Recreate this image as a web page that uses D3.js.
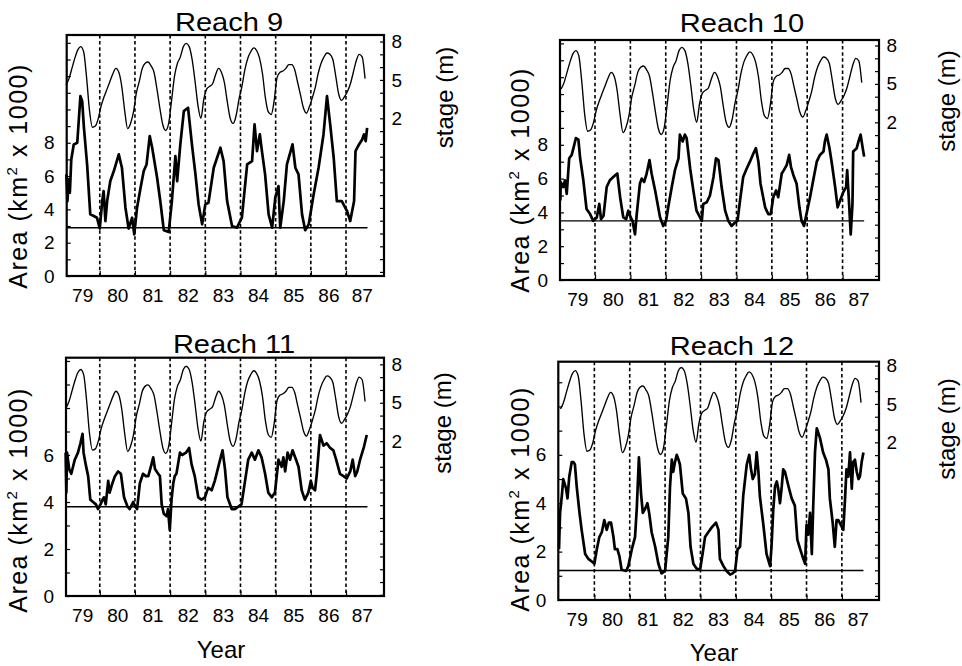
<!DOCTYPE html>
<html>
<head>
<meta charset="utf-8">
<script src="https://cdn.jsdelivr.net/npm/d3@7"></script>
<style>
  body { margin: 0; background: #fff; }
  svg { display: block; }
  text { font-family: "Liberation Sans", Arial, Helvetica, sans-serif; fill: #000; }
</style>
</head>
<body>
<svg id="chart" width="962" height="666"></svg>
<script>
// ---- data -------------------------------------------------------------
// Year boundaries (dashed lines) and the year labels under each panel
const yearBreaks = [1980, 1981, 1982, 1983, 1984, 1985, 1986, 1987];
const yearLabelAt = [1979.5, 1980.5, 1981.5, 1982.5, 1983.5, 1984.5, 1985.5, 1986.5, 1987.45];
const yearLabels = ["79", "80", "81", "82", "83", "84", "85", "86", "87"];

// River stage (m), monthly from January 1979
const stageStartYear = 1979;
const stage = [
  4.6, 5.1, 5.9, 6.7, 7.35, 7.6, 7.2, 5.2, 2.6, 1.3,
  1.4, 2.0, 3.0, 3.7, 4.3, 4.9, 5.5, 5.9, 5.6, 4.5,
  2.6, 1.2, 1.6, 2.5, 4.0, 4.9, 5.9, 6.3, 6.4, 6.1,
  5.6, 4.3, 2.8, 1.5, 1.05, 1.6, 3.4, 5.3, 6.3, 6.8,
  7.6, 7.85, 7.6, 6.6, 4.9, 3.0, 2.0, 3.5, 4.3, 4.5,
  4.7, 5.4, 5.9, 5.6, 4.8, 3.3, 2.0, 1.6, 2.2, 3.5,
  4.5, 5.8, 6.7, 7.2, 7.5, 7.3, 6.7, 5.5, 3.6, 2.5,
  2.3, 3.4, 5.2, 5.6, 5.7, 5.9, 6.2, 6.2, 5.8, 4.8,
  3.8, 2.8, 2.4, 2.9, 3.6, 4.4, 5.5, 6.3, 6.8, 7.1,
  7.0, 6.6, 5.3, 3.9, 3.4, 3.7, 4.1, 4.7, 5.6, 6.5,
  7.0, 6.8, 5.1
];

// Inundated area (km^2 x 1000) per reach: [decimal year, area]
const reach9Area = [
  [1979.05,6.1],[1979.08,4.5],[1979.12,5.8],[1979.15,5.0],[1979.19,7.0],[1979.26,7.9],[1979.36,8.0],
  [1979.45,10.8],[1979.50,10.5],[1979.55,8.9],[1979.64,6.7],[1979.73,3.7],[1979.83,3.6],[1979.92,3.5],
  [1980.00,2.85],[1980.07,4.5],[1980.11,5.1],[1980.16,3.3],[1980.21,4.5],[1980.30,5.7],[1980.40,6.3],
  [1980.54,7.3],[1980.63,6.5],[1980.73,4.1],[1980.82,2.85],[1980.92,3.5],[1980.98,2.5],[1981.06,4.1],
  [1981.16,5.3],[1981.25,6.3],[1981.33,6.7],[1981.42,8.4],[1981.49,7.7],[1981.63,5.9],[1981.72,4.5],
  [1981.82,2.75],[1981.96,2.65],[1982.05,4.5],[1982.15,7.2],[1982.20,5.7],[1982.29,7.9],[1982.39,9.9],
  [1982.51,10.1],[1982.62,7.9],[1982.72,6.1],[1982.81,4.3],[1982.91,3.1],[1983.00,4.3],[1983.09,4.4],
  [1983.24,6.5],[1983.43,7.7],[1983.52,6.9],[1983.62,4.5],[1983.76,3.0],[1983.90,2.9],[1984.04,3.5],
  [1984.19,6.7],[1984.33,6.9],[1984.40,9.1],[1984.47,7.5],[1984.55,8.5],[1984.61,7.5],[1984.70,6.1],
  [1984.80,3.7],[1984.90,2.9],[1984.99,4.7],[1985.08,5.4],[1985.13,2.9],[1985.23,4.5],[1985.32,6.7],
  [1985.48,7.9],[1985.56,6.5],[1985.65,6.1],[1985.75,3.7],[1985.84,2.75],[1985.94,3.1],[1986.08,4.9],
  [1986.22,6.5],[1986.36,8.5],[1986.46,10.8],[1986.55,9.1],[1986.65,7.1],[1986.74,4.5],[1986.88,4.5],
  [1987.03,3.9],[1987.12,3.3],[1987.23,4.5],[1987.27,7.5],[1987.37,7.9],[1987.46,8.2],[1987.51,8.5],
  [1987.56,8.1],[1987.60,8.9]
];
const reach10Area = [
  [1979.02,4.7],[1979.03,5.8],[1979.10,5.5],[1979.15,5.9],[1979.20,5.1],[1979.27,7.2],[1979.34,7.4],
  [1979.39,7.8],[1979.46,8.4],[1979.53,8.3],[1979.58,7.2],[1979.67,5.9],[1979.76,4.2],[1979.86,3.9],
  [1979.95,3.5],[1980.05,3.7],[1980.12,4.5],[1980.17,3.6],[1980.24,3.8],[1980.33,5.5],[1980.42,5.9],
  [1980.57,6.2],[1980.63,6.3],[1980.71,4.9],[1980.80,3.7],[1980.88,3.6],[1980.94,4.1],[1981.01,3.7],
  [1981.06,3.5],[1981.13,2.7],[1981.18,3.9],[1981.27,5.7],[1981.32,6.0],[1981.39,5.8],[1981.46,6.3],
  [1981.54,7.1],[1981.60,6.3],[1981.70,5.3],[1981.84,3.7],[1981.93,3.2],[1982.01,3.5],[1982.07,4.3],
  [1982.17,5.5],[1982.26,6.5],[1982.36,7.2],[1982.40,8.6],[1982.48,8.2],[1982.54,8.6],[1982.59,8.4],
  [1982.69,6.6],[1982.78,5.3],[1982.87,4.1],[1982.97,3.7],[1983.02,3.5],[1983.06,4.5],[1983.16,4.6],
  [1983.25,5.0],[1983.35,6.1],[1983.42,7.2],[1983.49,7.1],[1983.58,5.5],[1983.68,4.1],[1983.77,3.5],
  [1983.86,3.2],[1983.96,3.4],[1984.03,3.5],[1984.10,4.7],[1984.19,6.1],[1984.29,6.6],[1984.38,7.0],
  [1984.48,7.5],[1984.55,7.8],[1984.62,7.0],[1984.68,5.7],[1984.81,4.3],[1984.90,3.9],[1984.97,3.9],
  [1985.04,4.9],[1985.12,5.3],[1985.18,4.9],[1985.28,6.3],[1985.34,6.5],[1985.42,6.8],[1985.49,7.4],
  [1985.54,6.7],[1985.61,6.2],[1985.70,5.7],[1985.78,4.3],[1985.84,3.5],[1985.91,3.2],[1985.98,3.9],
  [1986.08,4.9],[1986.17,5.9],[1986.27,7.0],[1986.36,7.4],[1986.46,7.6],[1986.50,8.2],[1986.55,8.6],
  [1986.63,7.8],[1986.69,7.0],[1986.79,5.5],[1986.86,4.3],[1986.93,4.7],[1987.02,5.2],[1987.10,5.5],
  [1987.13,6.5],[1987.19,4.3],[1987.23,2.7],[1987.28,4.5],[1987.30,7.6],[1987.40,7.8],[1987.45,8.2],
  [1987.51,8.6],[1987.57,7.8],[1987.61,7.3]
];
const reach11Area = [
  [1979.03,6.1],[1979.05,4.4],[1979.07,6.1],[1979.13,5.4],[1979.19,5.2],[1979.29,5.8],[1979.38,6.1],
  [1979.45,6.5],[1979.51,6.9],[1979.54,6.1],[1979.60,5.6],[1979.67,5.1],[1979.73,4.1],[1979.81,4.0],
  [1979.89,3.9],[1979.95,3.7],[1980.02,3.9],[1980.08,4.1],[1980.12,4.2],[1980.17,3.9],[1980.24,4.9],
  [1980.28,4.4],[1980.36,4.8],[1980.43,5.1],[1980.52,5.3],[1980.60,5.2],[1980.69,4.2],[1980.79,3.8],
  [1980.85,3.7],[1980.95,4.0],[1981.01,3.8],[1981.06,3.7],[1981.14,4.8],[1981.23,5.2],[1981.31,5.1],
  [1981.38,5.1],[1981.47,5.6],[1981.52,5.9],[1981.57,5.4],[1981.66,5.2],[1981.71,5.1],[1981.76,3.9],
  [1981.82,3.5],[1981.90,3.4],[1981.94,3.7],[1981.99,2.8],[1982.04,4.1],[1982.09,4.8],[1982.13,5.1],
  [1982.18,5.2],[1982.28,6.1],[1982.35,6.0],[1982.45,6.1],[1982.54,6.3],[1982.61,5.6],[1982.70,5.1],
  [1982.80,4.2],[1982.89,4.1],[1982.99,4.2],[1983.08,4.6],[1983.18,4.5],[1983.27,4.9],[1983.37,5.5],
  [1983.49,6.2],[1983.56,5.4],[1983.63,4.2],[1983.75,3.7],[1983.84,3.7],[1983.94,3.8],[1984.03,3.9],
  [1984.13,4.9],[1984.22,5.8],[1984.32,6.1],[1984.41,5.8],[1984.51,6.2],[1984.60,5.9],[1984.70,5.2],
  [1984.79,4.4],[1984.89,4.2],[1984.98,4.4],[1985.08,5.8],[1985.17,5.5],[1985.22,5.9],[1985.27,5.3],
  [1985.34,6.1],[1985.41,5.8],[1985.48,6.2],[1985.58,5.8],[1985.65,5.5],[1985.74,4.5],[1985.83,4.1],
  [1985.93,4.4],[1986.00,4.9],[1986.05,4.6],[1986.12,4.5],[1986.17,5.2],[1986.26,6.85],[1986.36,6.4],
  [1986.45,6.5],[1986.55,6.3],[1986.64,6.2],[1986.72,5.8],[1986.83,5.2],[1986.93,5.1],[1987.02,5.0],
  [1987.12,5.3],[1987.19,5.8],[1987.26,5.1],[1987.32,5.3],[1987.40,5.8],[1987.51,6.35],[1987.59,6.85]
];
const reach12Area = [
  [1979.00,2.1],[1979.03,3.6],[1979.08,4.3],[1979.12,5.0],[1979.20,4.6],[1979.24,4.2],[1979.29,5.1],
  [1979.36,5.7],[1979.41,5.7],[1979.45,5.6],[1979.50,4.7],[1979.58,3.6],[1979.64,2.9],[1979.74,1.9],
  [1979.83,1.7],[1979.92,1.6],[1980.00,1.5],[1980.07,2.1],[1980.14,2.6],[1980.21,2.8],[1980.28,3.3],
  [1980.35,2.9],[1980.41,3.2],[1980.47,3.2],[1980.54,2.6],[1980.58,2.1],[1980.65,2.1],[1980.71,1.8],
  [1980.77,1.25],[1980.90,1.2],[1980.96,1.4],[1981.06,2.1],[1981.15,2.6],[1981.20,3.8],[1981.26,5.9],
  [1981.32,4.4],[1981.37,3.6],[1981.43,3.75],[1981.50,4.0],[1981.55,3.6],[1981.62,2.8],[1981.72,2.2],
  [1981.81,1.5],[1981.90,1.1],[1982.00,1.2],[1982.09,2.6],[1982.14,4.7],[1982.19,5.8],[1982.23,5.3],
  [1982.28,5.7],[1982.33,6.0],[1982.38,5.8],[1982.42,5.6],[1982.50,4.4],[1982.59,4.2],[1982.66,3.6],
  [1982.72,2.2],[1982.80,1.5],[1982.89,1.3],[1982.99,1.25],[1983.06,1.9],[1983.13,2.6],[1983.22,2.8],
  [1983.32,3.0],[1983.44,3.2],[1983.51,2.9],[1983.55,1.7],[1983.65,1.4],[1983.74,1.2],[1983.84,1.05],
  [1983.91,1.1],[1983.98,1.2],[1984.05,2.1],[1984.12,2.2],[1984.21,4.3],[1984.31,5.6],[1984.38,6.0],
  [1984.43,5.4],[1984.48,5.0],[1984.54,5.2],[1984.59,6.1],[1984.64,5.3],[1984.68,4.3],[1984.78,3.1],
  [1984.87,1.9],[1984.97,1.4],[1985.01,2.2],[1985.06,3.75],[1985.11,4.7],[1985.16,4.9],[1985.20,4.6],
  [1985.25,4.0],[1985.30,4.7],[1985.34,5.4],[1985.39,5.3],[1985.49,4.7],[1985.58,4.2],[1985.67,3.9],
  [1985.74,2.5],[1985.82,2.1],[1985.91,1.7],[1985.96,1.5],[1986.00,3.1],[1986.05,2.7],[1986.10,3.6],
  [1986.15,1.9],[1986.19,3.9],[1986.24,6.1],[1986.29,7.1],[1986.38,6.7],[1986.47,6.1],[1986.55,5.8],
  [1986.62,5.4],[1986.66,4.2],[1986.74,3.2],[1986.80,2.2],[1986.85,3.3],[1986.90,3.3],[1986.97,3.1],
  [1987.04,2.9],[1987.09,4.2],[1987.13,5.4],[1987.18,5.1],[1987.23,6.1],[1987.28,4.6],[1987.32,5.7],
  [1987.37,5.8],[1987.42,5.3],[1987.47,5.0],[1987.51,5.1],[1987.56,5.7],[1987.61,6.1]
];

const reachNames = ["Reach 9", "Reach 10", "Reach 11", "Reach 12"];
const reachAreas = [reach9Area, reach10Area, reach11Area, reach12Area];
const reachThresholds = [2.9, 3.5, 3.8, 1.22];      // horizontal reference level per reach
const areaTickLabels = [[0, 2, 4, 6, 8], [0, 2, 4, 6, 8], [0, 2, 4, 6], [0, 2, 4, 6]];
const stageTickLabels = [2, 5, 8];
const thresholdEnd = 1987.61;

// ---- layout ----------------------------------------------------------
const layout = [
  { x0: 66.7, x1: 384, y0: 35,    y1: 276, xDom: [1979.06, 1988.08], aDom: [0, 14.47], sDom: [-10.32, 8.51],
    title: [229, 31], areaTitle: [27, 176], stageTitle: [453, 97.5], yearTitle: null },
  { x0: 560,  x1: 879, y0: 40,    y1: 280, xDom: [1979.01, 1988.03], aDom: [0, 14.2],  sDom: [-10.32, 8.43],
    title: [742, 31.7], areaTitle: [529, 180], stageTitle: [955, 101], yearTitle: null },
  { x0: 66,   x1: 384, y0: 357.7, y1: 596, xDom: [1979.04, 1988.08], aDom: [0, 10.14], sDom: [-10.09, 8.52],
    title: [234, 353.3], areaTitle: [27, 500], stageTitle: [451, 423], yearTitle: [221, 658] },
  { x0: 558.3, x1: 879, y0: 361.7, y1: 600, xDom: [1978.98, 1988.05], aDom: [0, 9.85], sDom: [-10.32, 8.30],
    title: [732, 355], areaTitle: [529, 499], stageTitle: [955, 429], yearTitle: [714, 661] }
];

const svg = d3.select("#chart");
const FONT = '"Liberation Sans", Arial, Helvetica, sans-serif';

function styleAxis(g) {
  g.attr("font-family", FONT).attr("font-size", 19);
  g.select(".domain").remove();
  g.selectAll(".tick line").attr("stroke", "#000").attr("stroke-width", 1.2);
  g.selectAll(".tick text").attr("fill", "#000");
}

reachNames.forEach((name, k) => {
  const L = layout[k];
  const g = svg.append("g");

  const x = d3.scaleLinear().domain(L.xDom).range([L.x0, L.x1]);
  const yA = d3.scaleLinear().domain(L.aDom).range([L.y1, L.y0]);
  const yS = d3.scaleLinear().domain(L.sDom).range([L.y1, L.y0]);

  // dashed year boundaries
  g.append("g").selectAll("line").data(yearBreaks).join("line")
    .attr("x1", d => x(d)).attr("x2", d => x(d))
    .attr("y1", L.y0).attr("y2", L.y1)
    .attr("stroke", "#000").attr("stroke-width", 1.6)
    .attr("stroke-dasharray", "3.5,2.6");

  // left area axis (ticks inside)
  const aTicks = d3.range(Math.ceil(L.aDom[0]), Math.floor(L.aDom[1]) + 1);
  g.append("g").attr("transform", `translate(${L.x0},0)`)
    .call(d3.axisLeft(yA).tickValues(aTicks).tickSize(-4).tickPadding(12)
      .tickFormat(d => areaTickLabels[k].includes(d) ? d : ""))
    .call(styleAxis);

  // right stage axis (ticks inside)
  const sTicks = d3.range(Math.ceil(L.sDom[0]), Math.floor(L.sDom[1]) + 1);
  g.append("g").attr("transform", `translate(${L.x1},0)`)
    .call(d3.axisRight(yS).tickValues(sTicks).tickSize(-4).tickPadding(7.5)
      .tickFormat(d => stageTickLabels.includes(d) ? d : ""))
    .call(styleAxis);

  // bottom: ticks at year breaks, labels mid-year
  g.append("g").attr("transform", `translate(0,${L.y1})`)
    .call(d3.axisBottom(x).tickValues(yearBreaks).tickSize(-5).tickFormat(""))
    .call(styleAxis);
  g.append("g").attr("transform", `translate(0,${L.y1})`)
    .call(d3.axisBottom(x).tickValues(yearLabelAt).tickSize(0).tickPadding(12.6)
      .tickFormat((d, i) => yearLabels[i]))
    .call(styleAxis);

  // reference level
  g.append("line")
    .attr("x1", x(L.xDom[0])).attr("x2", x(thresholdEnd))
    .attr("y1", yA(reachThresholds[k])).attr("y2", yA(reachThresholds[k]))
    .attr("stroke", "#000").attr("stroke-width", 1.4);

  // stage (thin)
  g.append("path").datum(stage)
    .attr("fill", "none").attr("stroke", "#000").attr("stroke-width", 1.35)
    .attr("stroke-linejoin", "round")
    .attr("d", d3.line()
      .x((d, i) => x(stageStartYear + (i + 0.5) / 12))
      .y(d => yS(d))
      .curve(d3.curveMonotoneX));

  // inundated area (thick)
  g.append("path").datum(reachAreas[k])
    .attr("fill", "none").attr("stroke", "#000").attr("stroke-width", 2.7)
    .attr("stroke-linejoin", "round")
    .attr("d", d3.line().x(d => x(d[0])).y(d => yA(d[1])));

  // frame
  g.append("rect")
    .attr("x", L.x0).attr("y", L.y0)
    .attr("width", L.x1 - L.x0).attr("height", L.y1 - L.y0)
    .attr("fill", "none").attr("stroke", "#000").attr("stroke-width", 2.2);

  // panel title, glyphs slightly widened
  g.append("text")
    .attr("transform", `translate(${L.title[0]},${L.title[1]}) scale(1.14,1)`)
    .attr("text-anchor", "middle").attr("font-size", 25.5)
    .text(name);

  const at = g.append("text")
    .attr("transform", `translate(${L.areaTitle[0]},${L.areaTitle[1]}) rotate(-90)`)
    .attr("text-anchor", "middle").attr("font-size", 25).attr("letter-spacing", 1.5);
  at.append("tspan").text("Area  (km");
  at.append("tspan").attr("font-size", 15).attr("dy", -10).text("2");
  at.append("tspan").attr("dy", 10).text(" x 1000)");

  g.append("text")
    .attr("transform", `translate(${L.stageTitle[0]},${L.stageTitle[1]}) rotate(-90)`)
    .attr("text-anchor", "middle").attr("font-size", 24)
    .text("stage (m)");

  if (L.yearTitle) {
    g.append("text").attr("x", L.yearTitle[0]).attr("y", L.yearTitle[1])
      .attr("text-anchor", "middle").attr("font-size", 24)
      .text("Year");
  }
});
</script>
</body>
</html>
